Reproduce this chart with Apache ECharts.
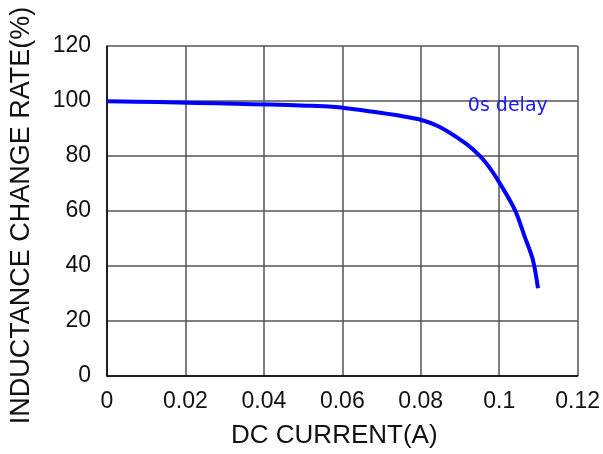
<!DOCTYPE html>
<html><head><meta charset="utf-8">
<script src="https://cdn.jsdelivr.net/npm/echarts@6/dist/echarts.min.js"></script>
<style>html,body{margin:0;padding:0;background:#fff}#c{width:603px;height:454px}</style>
</head><body><div id="c"></div>
<script>
const currentA = [0, 0.0129, 0.023, 0.0327, 0.0415, 0.0509, 0.0575, 0.0625, 0.0668, 0.0744, 0.08, 0.0846, 0.0896, 0.093, 0.0964, 0.0999, 0.104, 0.1065, 0.1086, 0.1099];
const ratePct  = [99.9, 99.6, 99.3, 99.0, 98.7, 98.3, 97.9, 97.1, 96.3, 94.7, 93.2, 90.7, 86.4, 82.8, 77.9, 70.7, 60.4, 50.7, 42.2, 31.9];
const seriesName = '0s delay';
const xTicks = [0, 0.02, 0.04, 0.06, 0.08, 0.1, 0.12];
const yTicks = [0, 20, 40, 60, 80, 100, 120];

const chart = echarts.init(document.getElementById('c'));
const font = 'Liberation Sans, Arial, sans-serif';
chart.setOption({
  animation: false,
  grid: {left: 106, right: 20, top: 46, bottom: 78, containLabel: false},
  xAxis: {
    type: 'value', min: 0, max: 0.12, interval: 0.02,
    name: 'DC CURRENT(A)', nameLocation: 'middle', nameGap: 47,
    nameTextStyle: {fontSize: 26, color: '#111', fontFamily: font, padding: [0, 16, 0, 0]},
    axisLine: {show: true, lineStyle: {color: '#000', width: 1.5}},
    axisTick: {show: false},
    axisLabel: {fontSize: 23, color: '#111', fontFamily: font, margin: 14,
      formatter: v => { const t = xTicks.find(x => Math.abs(x - v) < 1e-9); return t === undefined ? '' : String(+t.toFixed(2)); }},
    splitLine: {show: true, lineStyle: {color: '#555', width: 1.5}}
  },
  yAxis: {
    type: 'value', min: 0, max: 120, interval: 20,
    name: 'INDUCTANCE CHANGE RATE(%)', nameLocation: 'middle', nameGap: 72, nameRotate: 90,
    nameTextStyle: {fontSize: 27, color: '#111', fontFamily: font, padding: [0, 9, 0, 0]},
    axisLine: {show: true, lineStyle: {color: '#000', width: 1.5}},
    axisTick: {show: false},
    axisLabel: {fontSize: 23, color: '#111', fontFamily: font, margin: 16,
      formatter: v => yTicks.includes(v) ? String(v) : ''},
    splitLine: {show: true, lineStyle: {color: '#555', width: 1.5}}
  },
  series: [{
    name: seriesName, type: 'line', smooth: 0.3, symbol: 'none',
    data: currentA.map((x, i) => [x, ratePct[i]]),
    lineStyle: {color: '#0000ff', width: 4},
    markPoint: {
      symbol: 'rect', symbolSize: 0,
      data: [{coord: [0.1022, 98.3], value: seriesName}],
      label: {show: true, formatter: seriesName, color: '#1a1aff', fontSize: 19, fontFamily: 'DejaVu Sans, sans-serif', position: 'inside'}
    }
  }]
});
</script></body></html>
